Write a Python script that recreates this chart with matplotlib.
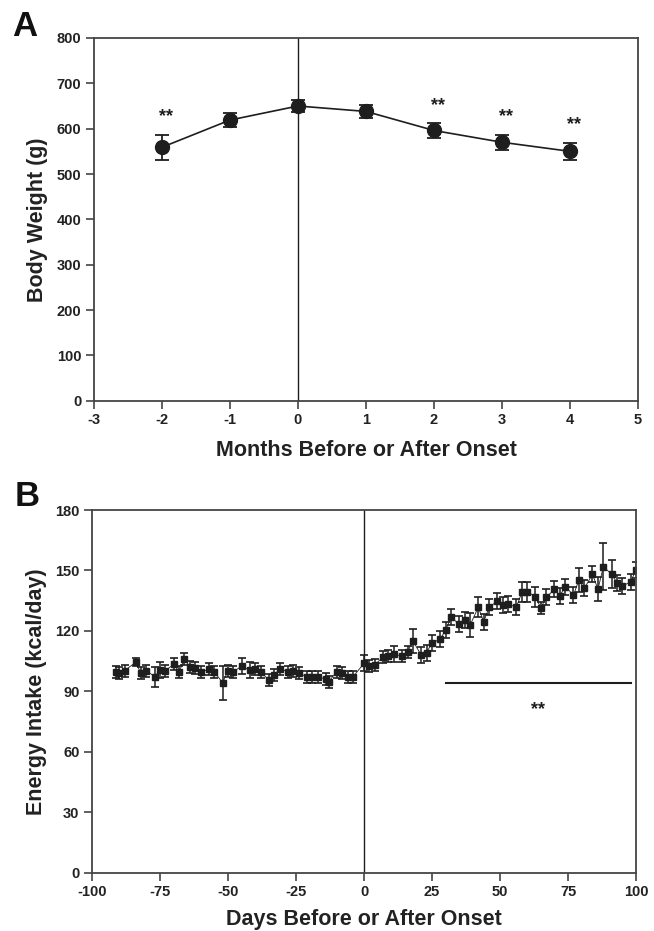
import matplotlib
matplotlib.use("Agg")
import matplotlib.pyplot as plt

plt.rcParams['font.family'] = ['Liberation Sans', 'DejaVu Sans']
plt.rcParams['font.weight'] = 'bold'

# panel A: body weight by month
months = [-2, -1, 0, 1, 2, 3, 4]
weight = [559, 619, 650, 638, 596, 570, 550]
weight_sem = [28, 16, 13, 15, 16, 17, 19]
star_months = [-2, 2, 3, 4]
star_y = [626, 650, 626, 609]

# panel B: daily energy intake
days = [-91, -90, -88, -84, -82, -80, -77, -75, -73, -70, -68, -66, -64, -62,
        -60, -57, -55, -52, -50, -48, -45, -42, -40, -38, -35, -33, -31, -28,
        -26, -24, -21, -19, -17, -14, -13, -10, -8, -6, -4, 0,
        2, 4, 7, 9, 11, 14, 16, 18, 21, 23, 25, 28, 30, 32, 35, 37, 39, 42,
        44, 46, 49, 51, 53, 56, 58, 60, 63, 65, 67, 70, 72, 74, 77, 79, 81,
        84, 86, 88, 91, 93, 95, 98, 100]
intake = [99.8, 99, 100.3, 104.4, 99, 100.3, 97.3, 100.6, 100.3, 103.4, 99.8,
          105.9, 102.2, 101.7, 99.8, 100.9, 99.6, 94.3, 100.2, 99.8, 102.5,
          100.5, 101.2, 99.8, 95.6, 98.1, 101.2, 99.8, 100.2, 99, 97.3, 97.3,
          97.3, 96, 94.8, 99.8, 99.3, 97.3, 97.3, 103.9,
          102.8, 103.1, 107.2, 107.5, 108.5, 107.5, 109.7, 115, 108, 109.2,
          114.2, 115.8, 120.5, 126.7, 123.4, 125.4, 122.9, 131.7, 124.6, 131.7,
          134.8, 132.9, 133.4, 131.7, 139.1, 139.5, 137, 131.5, 136.7, 140.6,
          137.5, 142, 137.8, 145.2, 141.1, 148.2, 140.6, 151.9, 148.2, 143.9,
          142.2, 144.4, 150.2]
intake_sem = [3, 3, 3, 2, 3, 3, 5, 4, 3, 3, 3, 3, 3, 3, 3, 3, 3, 8.5, 3, 3,
              4, 4, 3, 3, 3, 3, 3, 3, 3, 3, 3, 3, 3, 3, 3, 3, 3, 3, 3, 4,
              3, 3, 3, 3, 4, 3, 3, 6, 4, 4, 4, 4, 4, 4, 4, 4, 6, 5, 4, 4, 4,
              4, 4, 4, 5, 5, 5, 3, 4, 4, 4, 4, 4, 6, 4, 4, 6, 11.6, 7, 4, 4,
              4, 4]
sig_start, sig_end, sig_level = 30, 98, 94

dark = '#1e1e1e'
spine_col = '#444444'

fig = plt.figure(figsize=(6.54, 9.31), dpi=100)
axA = fig.add_axes([0.1437, 0.5696, 0.8318, 0.3896])
axB = fig.add_axes([0.1407, 0.0626, 0.8318, 0.3896])


def style(ax):
    for s in ax.spines.values():
        s.set_color(spine_col)
        s.set_linewidth(1.3)
    ax.tick_params(direction='out', length=6, width=1.2, color=spine_col,
                   labelsize=10.5, pad=3)
    for lab in ax.get_xticklabels() + ax.get_yticklabels():
        lab.set_fontweight('bold')
        lab.set_color('#222222')


# A
axA.axvline(0, color=dark, lw=1)
axA.errorbar(months, weight, yerr=weight_sem, fmt='o-', color=dark,
             ms=10, lw=1.2, elinewidth=1.3, capsize=5, capthick=1.3)
for m, y in zip(star_months, star_y):
    axA.text(m + 0.06, y, '**', ha='center', va='center', fontsize=13,
             color=dark)
axA.set_xlim(-3, 5)
axA.set_ylim(0, 800)
axA.set_xticks(range(-3, 6))
axA.set_xticklabels([str(v) for v in range(-3, 6)])
axA.set_yticks(range(0, 801, 100))
axA.set_xlabel('Months Before or After Onset', fontsize=15.5,
               fontweight='bold', labelpad=9, color='#222222')
axA.set_ylabel('Body Weight (g)', fontsize=15.5, fontweight='bold',
               labelpad=6, color='#222222')
style(axA)
fig.text(0.018, 0.961, 'A', fontsize=25, fontweight='bold', color='#111111')

# B
axB.axvline(0, color=dark, lw=1)
axB.errorbar(days, intake, yerr=intake_sem, fmt='s-', color=dark,
             ms=4.3, lw=0.6, elinewidth=1.1, capsize=3, capthick=1.2)
axB.plot([sig_start, sig_end], [sig_level, sig_level], color=dark, lw=1.5)
axB.text((sig_start + sig_end) / 2, 81, '**', ha='center', va='center',
         fontsize=13, color=dark)
axB.set_xlim(-100, 100)
axB.set_ylim(0, 180)
axB.set_xticks(range(-100, 101, 25))
axB.set_xticklabels([str(v) for v in range(-100, 101, 25)])
axB.set_yticks(range(0, 181, 30))
axB.set_xlabel('Days Before or After Onset', fontsize=15.5, fontweight='bold',
               labelpad=7, color='#222222')
axB.set_ylabel('Energy Intake (kcal/day)', fontsize=15.5, fontweight='bold',
               labelpad=6, color='#222222')
style(axB)
fig.text(0.022, 0.456, 'B', fontsize=25, fontweight='bold', color='#111111')

fig.savefig('out.png', dpi=100)
